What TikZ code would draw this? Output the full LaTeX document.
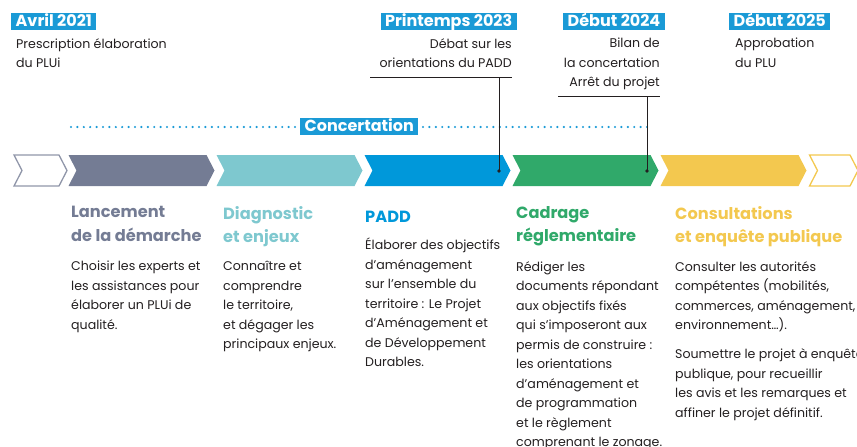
\documentclass[tikz,border=0pt]{standalone}
\usepackage{fontspec}
\setmainfont{Poppins}

\definecolor{cblue}{HTML}{1A9AD6}
\definecolor{slate}{HTML}{747C94}
\definecolor{teal}{HTML}{7EC8CF}
\definecolor{padd}{HTML}{0098DA}
\definecolor{cgreen}{HTML}{30A96A}
\definecolor{cyellow}{HTML}{F3C84F}
\definecolor{ink}{HTML}{231F20}

\tikzset{
  datebox/.style={fill=cblue,text=white,font=\bfseries\fontsize{16}{18}\selectfont,
    anchor=base west,inner xsep=4.5pt,inner ysep=1.5pt,text height=12.5pt,text depth=1.5pt},
  desc/.style={font=\fontsize{12.6}{19.5}\selectfont,text=ink,inner sep=0pt,
    execute at begin node=\rule{0pt}{13.65pt}},
  heading/.style={font=\bfseries\fontsize{16.2}{23.5}\selectfont,inner sep=0pt,
    anchor=north west,align=left,execute at begin node=\rule{0pt}{16.45pt}},
  body/.style={desc,anchor=north west,align=left},
  pin/.style={draw=ink,line width=0.8pt},
}

\begin{document}
\begin{tikzpicture}[x=1pt,y=-1pt]
    \useasboundingbox (0,0) rectangle (857,447);

    % chevrons
    \draw[slate!80,line width=1.3pt,line join=miter] (14,155) -- (59,155) -- (67,170.5) -- (59,186) -- (14,186) -- (22,170.5) -- cycle;
    \foreach \x/\c in {68.5/slate,216.5/teal,364.5/padd,512.5/cgreen,660.5/cyellow}
      \fill[\c] (\x,155) -- ++(138,0) -- ++(8,15.5) -- ++(-8,15.5) -- ++(-138,0) -- ++(8,-15.5) -- cycle;
    \draw[cyellow,line width=1.3pt,line join=miter] (809.5,155) -- (850,155) -- (858,170.5) -- (850,186) -- (809.5,186) -- (817.5,170.5) -- cycle;

    % dates
    \node[datebox] (avril) at (11,26.5) {Avril 2021};
    \node[datebox,anchor=base east] (printemps) at (517,26.5) {Printemps 2023};
    \node[datebox,anchor=base east] (debut24) at (665,26.5) {Début 2024};
    \node[datebox] (debut25) at (729,26.5) {Début 2025};

    \node[desc,anchor=north west,align=left] (presc) at (16,38) {Prescription élaboration\\du PLUi};
    \node[desc,anchor=north east,align=right] (debat) at (512,38) {Débat sur les\\orientations du PADD};
    \node[desc,anchor=north east,align=right] (bilan) at (660,38) {Bilan de\\la concertation\\Arrêt du projet};
    \node[desc,anchor=north west,align=left] (appro) at (735,38) {Approbation\\du PLU};

    % concertation
    \coordinate (cstart) at (71,127);
    \coordinate (cend) at (647,127);
    \draw[cblue,line width=2.4pt,line cap=round,dash pattern=on 0pt off 6.4pt] (cstart) -- (cend);
    \node[datebox] (concert) at (300,131.5) {Concertation};

    % pins
    \draw[ink,line width=0.7pt] (370,77) -- (512,77);
    \draw[ink,line width=0.7pt] (558,96.5) -- (660,96.5);
    \coordinate (top23) at (499,77);
    \coordinate (pin23) at (499,171);
    \coordinate (top24) at (647,96.5);
    \coordinate (pin24) at (647,171);
    \draw[pin] (top23) -- (pin23);
    \draw[pin] (top24) -- (pin24);
    \fill[ink] (pin23) circle (1.8);
    \fill[ink] (pin24) circle (1.8);

    % phases
    \node[heading,text=slate] (lanc) at (71,206) {Lancement\\de la démarche};
    \node[heading,text=teal] (diag) at (223,206) {Diagnostic\\et enjeux};
    \node[heading,text=padd] (padd) at (365,206) {PADD};
    \node[heading,text=cgreen] (cadr) at (516,206) {Cadrage\\réglementaire};
    \node[heading,text=cyellow] (cons) at (675,206) {Consultations\\et enquête publique};

    \node[body] (lancbody) at (71,261) {Choisir les experts et\\les assistances pour\\élaborer un PLUi de\\qualité.};
    \node[body] (diagbody) at (223,261) {Connaître et\\comprendre\\le territoire,\\et dégager les\\principaux enjeux.};
    \node[body] (paddbody) at (365,238) {Élaborer des objectifs\\d’aménagement\\sur l’ensemble du\\territoire : Le Projet\\d’Aménagement et\\de Développement\\Durables.};
    \node[body] (cadrbody) at (516,261) {Rédiger les\\documents répondant\\aux objectifs fixés\\qui s’imposeront aux\\permis de construire :\\les orientations\\d’aménagement et\\de programmation\\et le règlement\\comprenant le zonage.};
    \node[body] (consbody) at (675,261) {Consulter les autorités\\compétentes (mobilités,\\commerces, aménagement,\\environnement…).\\[9.5pt]Soumettre le projet à enquête\\publique, pour recueillir\\les avis et les remarques et\\affiner le projet définitif.};
  \end{tikzpicture}
\end{document}
